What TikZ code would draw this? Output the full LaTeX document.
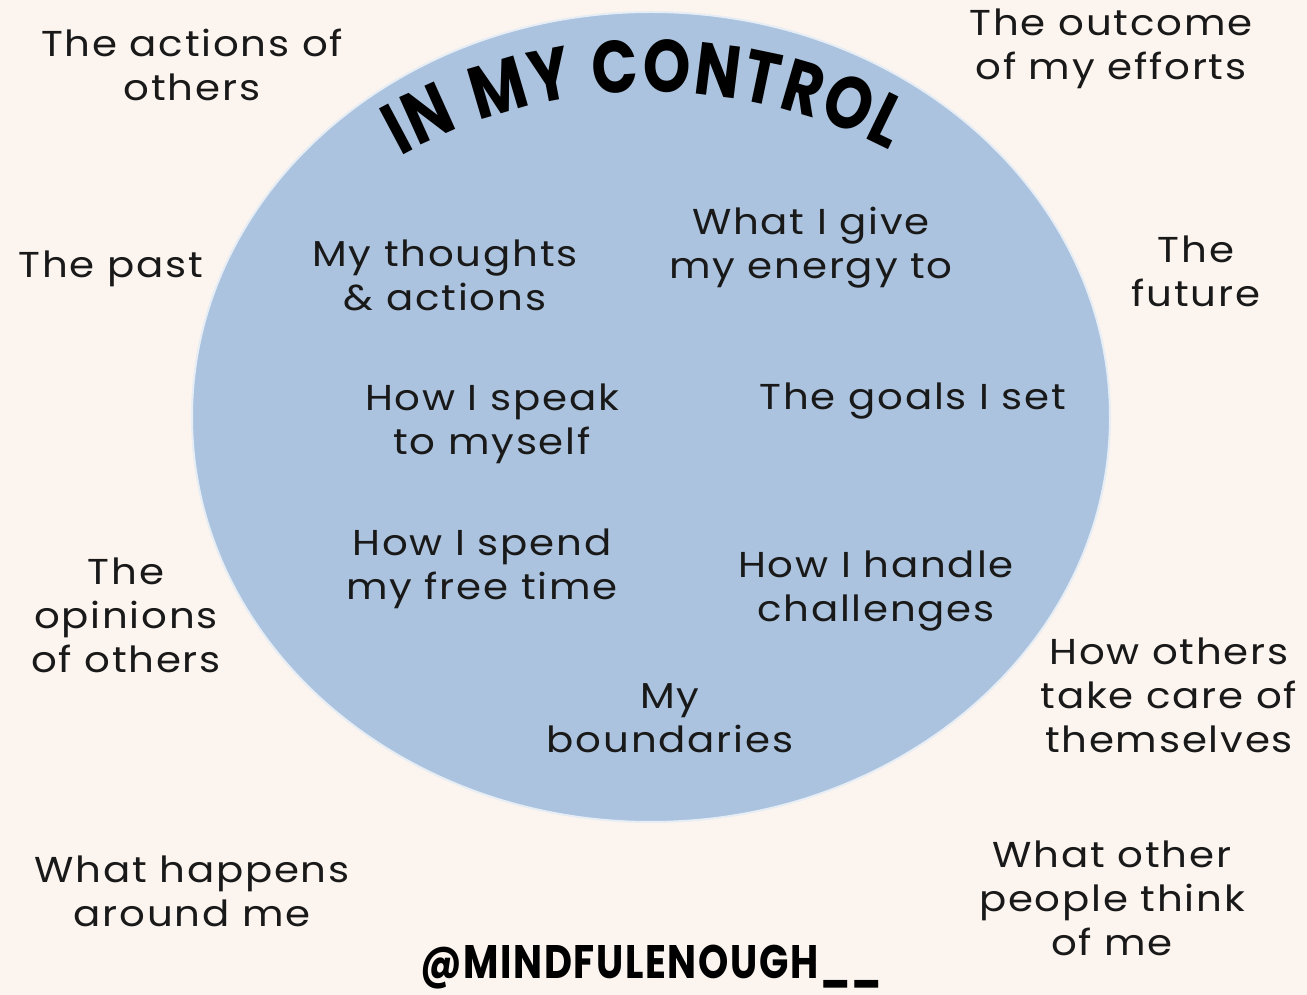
\documentclass[tikz,border=0pt]{standalone}
\usepackage{fontspec}
\setmainfont{Poppins}[FakeStretch=1.12,LetterSpace=5]
\newfontfamily\titlefont{Poppins}[FakeStretch=0.82,LetterSpace=3.5]
\usetikzlibrary{decorations.text}
\definecolor{cream}{RGB}{252,244,239}
\definecolor{circleblue}{RGB}{171,195,222}

\begin{document}
\begin{tikzpicture}[x=1pt,y=1pt,
	item/.style={align=center,font=\fontsize{36}{44}\selectfont,text=black!90,inner sep=0pt}]
	\useasboundingbox (0,0) rectangle (1307,995);
	\fill[cream] (0,0) rectangle (1307,995);
	\filldraw[fill=circleblue,draw=white!70!circleblue,line width=2] (651,578) ellipse [x radius=459, y radius=405];
	\path[decorate,decoration={text along path,text align={fit to path},
		text={|\titlefont\bfseries\fontsize{74}{80}\selectfont|IN MY CONTROL}}]
		(651,386) ++(119:517) arc [start angle=119, end angle=62.5, radius=517];
	% outside the circle
	\node[item] (actions) at (192,930) {The actions of\\others};
	\node[item] (outcome) at (1111,946) {The outcome\\of my efforts};
	\node[item] (past) at (111,726) {The past};
	\node[item] (future) at (1196,724) {The\\future};
	\node[item] (opinions) at (126,380) {The\\opinions\\of others};
	\node[item] (happens) at (192,104) {What happens\\around me};
	\node[item] (selfcare) at (1169,300) {How others\\take care of\\themselves};
	\node[item] (think) at (1112,97) {What other\\people think\\of me};
	% inside the circle
	\node[item] (thoughts) at (445,720) {My thoughts\\\& actions};
	\node[item] (energy) at (811,747) {What I give\\my energy to};
	\node[item] (speak) at (492,571) {How I speak\\to myself};
	\node[item] (goals) at (913,594) {The goals I set};
	\node[item] (freetime) at (482,426) {How I spend\\my free time};
	\node[item] (challenges) at (876,404) {How I handle\\challenges};
	\node[item] (boundaries) at (670,277) {My\\boundaries};
	\node[font=\titlefont\bfseries\fontsize{47}{50}\selectfont,inner sep=0pt] (handle) at (651,28) {@MINDFULENOUGH\_\_};
\end{tikzpicture}
\end{document}
